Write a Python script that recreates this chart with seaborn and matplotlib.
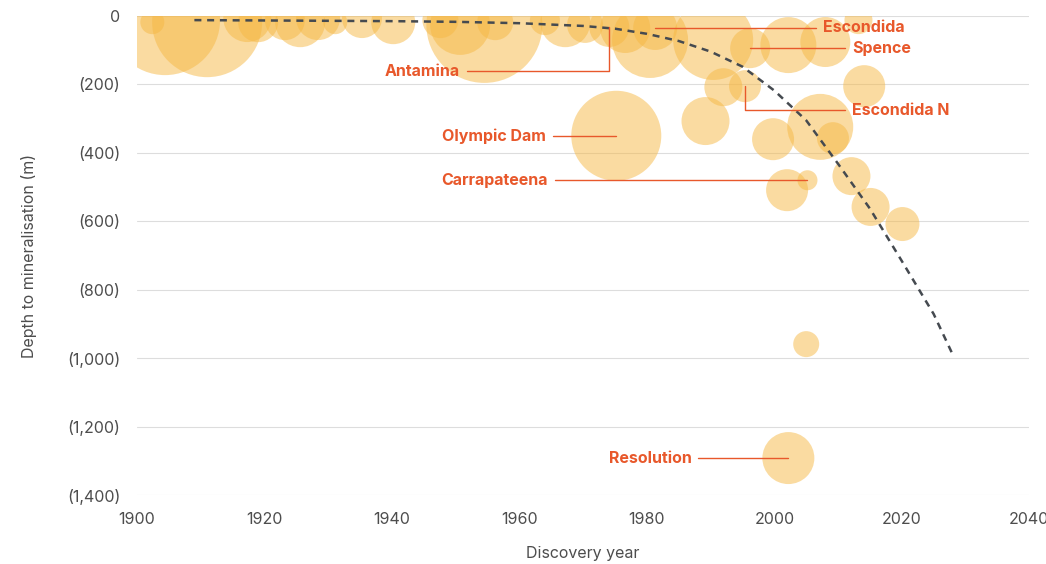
import matplotlib.pyplot as plt
import matplotlib.ticker as mticker
import seaborn as sns
import pandas as pd

# Discoveries: year, depth to mineralisation (m), relative deposit size
years = [1902.4, 1904.4, 1911.0, 1917.3, 1919.0, 1923.2, 1925.6, 1928.4, 1931.1, 1935.3,
         1940.2, 1954.5, 1950.7, 1956.2, 1947.6, 1964.0, 1967.2, 1970.3, 1974.1, 1976.6,
         1980.5, 1981.3, 1990.4, 1996.2, 2002.2, 2008.0, 2013.2, 2014.1, 1992.0, 1995.4,
         1989.2, 1999.8, 2007.2, 2009.2, 2012.1, 2015.1, 2020.1, 2002.0, 2005.2, 1975.2,
         2005.0, 2002.2]
depths = [18, 12, 18, 6, 18, 12, 18, 6, 18, 6,
          18, 26, 26, 18, 12, 12, 18, 26, 32, 35,
          70, 35, 70, 94, 85, 76, 12, 205, 208, 205,
          307, 360, 324, 357, 468, 558, 608, 509, 480, 350,
          959, 1292]
sizes = [144, 3025, 3025, 576, 400, 400, 625, 484, 144, 400,
         484, 3364, 900, 324, 324, 225, 625, 324, 400, 625,
         1444, 484, 1600, 400, 784, 625, 196, 441, 361, 256,
         576, 441, 1089, 256, 361, 361, 289, 441, 100, 2025,
         169, 676]
names = [""] * 42
names[18] = "Antamina"
names[21] = "Escondida"
names[23] = "Spence"
names[29] = "Escondida N"
names[38] = "Carrapateena"
names[39] = "Olympic Dam"
names[41] = "Resolution"

# Trend line
trend_years = [1909, 1920, 1930, 1940, 1950, 1960, 1970, 1975, 1980, 1985,
               1990, 1995, 2000, 2005, 2010, 2015, 2020, 2025, 2028]
trend_depths = [12, 13, 14, 15, 17, 21, 29, 37, 52, 73,
                104, 148, 218, 305, 432, 563, 716, 871, 990]

df = pd.DataFrame({"year": years, "depth": depths, "size": sizes, "name": names})
trend = pd.DataFrame({"year": trend_years, "depth": trend_depths})

sns.set_style("white")
plt.rcParams["font.family"] = ["Inter", "DejaVu Sans"]

orange = "#E8582B"
grey_text = "#4d4d4d"

fig = plt.figure(figsize=(10.46, 5.64), dpi=100)
ax = fig.add_axes([0.131, 0.1223, 0.853, 0.8493])

max_size = max(sizes)
sns.scatterplot(data=df, x="year", y="depth", size="size", sizes=(0, 2.073 * max_size),
                size_norm=(0, max_size), color="#F6B844", alpha=0.5, linewidth=0,
                legend=False, ax=ax, zorder=2)

sns.lineplot(data=trend, x="year", y="depth", color="#454a50", linewidth=1.8,
             dashes=False, sort=False, estimator=None, ax=ax, zorder=3)
ax.lines[-1].set_dashes((2.8, 2.3))

# Labels: (text year, text depth, elbow depth or None, side)
label_pos = {
    "Escondida": (2007.7, None, "right"),
    "Spence": (2012.2, None, "right"),
    "Escondida N": (2012.2, 275, "right"),
    "Antamina": (1950.7, 161, "left"),
    "Olympic Dam": (1964.2, None, "left"),
    "Carrapateena": (1964.5, None, "left"),
    "Resolution": (1987.0, None, "left"),
}
for _, row in df[df["name"] != ""].iterrows():
    tx, elbow, side = label_pos[row["name"]]
    ty = row["depth"] if elbow is None else elbow
    gap = 1.1 if side == "right" else -1.1
    xs = [row["year"], row["year"], tx - gap]
    ys = [row["depth"], ty, ty]
    ax.plot(xs, ys, color=orange, linewidth=1.0, zorder=4)
    ax.text(tx, ty, row["name"], color=orange, fontsize=11.5, fontweight="bold",
            ha="left" if side == "right" else "right", va="center", zorder=5)

ax.set_xlim(1900, 2040)
ax.set_ylim(1400, 0)
ax.set_xticks(range(1900, 2041, 20))
ax.set_yticks(range(0, 1401, 200))
ax.yaxis.set_major_formatter(mticker.FuncFormatter(
    lambda v, p: "0" if v == 0 else "({:,})".format(int(v))))
ax.grid(axis="y", color="#dddddd", linewidth=0.8)
ax.set_axisbelow(True)
sns.despine(ax=ax, left=True, bottom=True, top=True, right=True)
ax.tick_params(axis="both", length=0, labelsize=11.5, labelcolor=grey_text)
ax.tick_params(axis="y", pad=12)
ax.tick_params(axis="x", pad=12)

ax.set_xlabel("Discovery year", fontsize=11.5, color=grey_text, labelpad=14)
ax.set_ylabel("Depth to mineralisation (m)", fontsize=11.5, color=grey_text)
ax.yaxis.set_label_coords(-0.112, 0.5)

fig.savefig("out.png", dpi=100)
